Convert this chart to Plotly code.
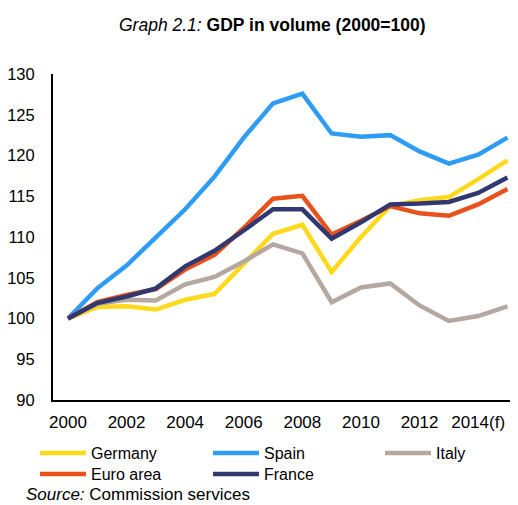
import plotly.graph_objects as go

years = list(range(2000, 2016))
tick_vals = [2000, 2002, 2004, 2006, 2008, 2010, 2012, 2014]
tick_text = ["2000", "2002", "2004", "2006", "2008", "2010", "2012", "2014(f)"]

germany = [100, 101.4, 101.5, 101.1, 102.3, 103.0, 106.7, 110.4, 111.5, 105.7, 110.0, 113.8, 114.5, 114.9, 117.1, 119.4]
spain = [100, 103.7, 106.5, 109.9, 113.4, 117.4, 122.2, 126.4, 127.6, 122.7, 122.3, 122.5, 120.5, 119.0, 120.1, 122.2]
italy = [100, 101.8, 102.3, 102.2, 104.2, 105.1, 107.0, 109.1, 108.0, 102.0, 103.8, 104.3, 101.6, 99.7, 100.3, 101.5]
euro = [100, 102.0, 102.9, 103.6, 106.0, 107.8, 111.1, 114.7, 115.05, 110.3, 112.0, 113.8, 112.9, 112.6, 114.0, 115.9]
france = [100, 101.9, 102.7, 103.7, 106.4, 108.3, 110.8, 113.4, 113.4, 109.8, 111.8, 114.0, 114.1, 114.3, 115.4, 117.3]

names = ["Germany", "Spain", "Italy", "Euro area", "France"]
colors = ["#FFD91A", "#2F9CF4", "#B4A8A0", "#E85119", "#30386F"]
values = [germany, spain, italy, euro, france]

# The page body has an 8px margin, so the figure is drawn 8px in from the
# window's top-left corner; layout targets below are given in window pixels.
OFF = 8
W, H = 518 - OFF, 505 - OFF
ML, MR, MT, MB = 53 - OFF, 0, 74 - OFF, 505 - 400
plot_w = W - ML - MR
plot_h = H - MT - MB


def px_to_paper(px, py):
    fx, fy = px - OFF, py - OFF
    return (fx - ML) / plot_w, (H - MB - fy) / plot_h


fig = go.Figure()
for name, vals, col in zip(names, values, colors):
    fig.add_trace(go.Scatter(x=years, y=vals, name=name, mode="lines",
                             line=dict(color=col, width=4.5)))

legend_pos = [(40, 453), (213, 453), (385, 453), (40, 474), (213, 474)]
shapes = []
annotations = []
for name, col, (lx, ly) in zip(names, colors, legend_pos):
    x0, y0 = px_to_paper(lx, ly)
    x1, _ = px_to_paper(lx + 46, ly)
    shapes.append(dict(type="line", xref="paper", yref="paper", x0=x0, x1=x1, y0=y0, y1=y0,
                       line=dict(color=col, width=4.5)))
    tx, ty = px_to_paper(lx + 49, ly)
    annotations.append(dict(text=name, x=tx, y=ty, xref="paper", yref="paper",
                            xanchor="left", yanchor="middle", showarrow=False,
                            font=dict(size=16)))

tx, ty = px_to_paper(272, 25)
annotations.append(dict(text="<i>Graph 2.1:</i> <b>GDP in volume (2000=100)</b>", x=tx, y=ty,
                        xref="paper", yref="paper", xanchor="center", yanchor="middle",
                        showarrow=False, font=dict(size=17.5)))
sx, sy = px_to_paper(25, 495)
annotations.append(dict(text="<i>Source:</i> Commission services", x=sx, y=sy,
                        xref="paper", yref="paper", xanchor="left", yanchor="middle",
                        showarrow=False, font=dict(size=17), borderpad=0))

font = "Liberation Sans, Arial, sans-serif"
fig.update_layout(
    width=W, height=H,
    margin=dict(l=ML, r=MR, t=MT, b=MB, autoexpand=False),
    paper_bgcolor="white", plot_bgcolor="white",
    font=dict(family=font, size=16, color="black"),
    showlegend=False,
    xaxis=dict(range=[1999.49, 2015.36], tickvals=tick_vals, ticktext=tick_text,
               showgrid=False, zeroline=False, showline=True, linecolor="black",
               linewidth=2, ticks="", ticklabelstandoff=6, tickfont=dict(size=17)),
    yaxis=dict(range=[90, 130], dtick=5, showgrid=False, zeroline=False,
               showline=True, linecolor="black", linewidth=2, ticks="",
               ticklabelstandoff=13, tickfont=dict(size=16.5)),
    shapes=shapes,
    annotations=annotations,
)

fig.write_html("out.html")
